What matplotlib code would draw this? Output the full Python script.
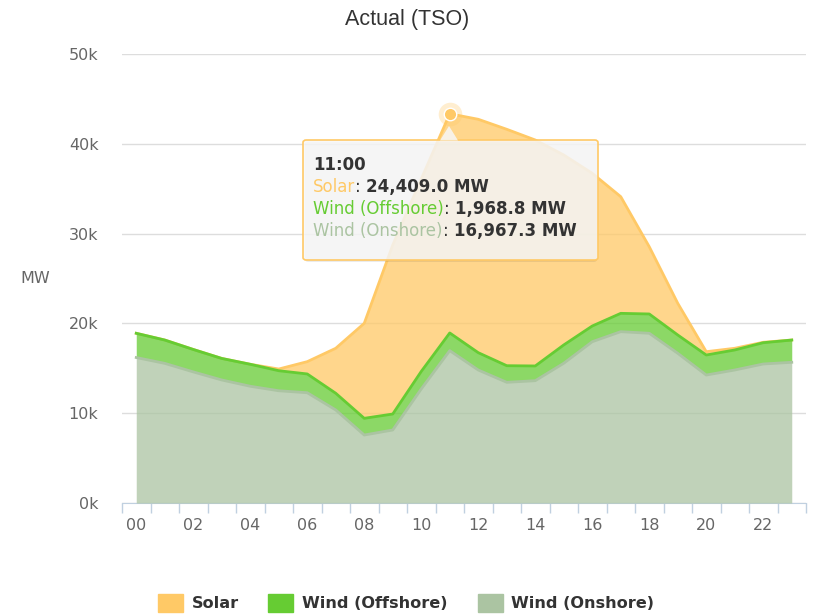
"""Actual (TSO) generation: stacked area of solar and wind, one day by hour."""

import matplotlib
matplotlib.use("Agg")
import matplotlib.pyplot as plt
from matplotlib.patches import Patch, FancyBboxPatch, Polygon

# --- colours ---
SOLAR: str = "#FFC966"
OFFSHORE: str = "#66CC33"
ONSHORE: str = "#ABC4A2"
GRID: str = "#DDDDDD"
AXIS: str = "#C0D0E0"
LABEL: str = "#666666"
DARK: str = "#333333"

W, H = 813, 616

# --- data (MW, per hour) ---
hours = list(range(24))
hour_labels = [f"{h:02d}" for h in hours]
solar = [0, 0, 0, 0, 0, 190, 1370, 5010, 10580, 18820, 21430, 24409.0,
         25990, 26325, 25164, 21153, 17004, 12990, 7490, 3528, 370, 190, 50, 0]
wind_offshore = [2700, 2600, 2500, 2400, 2450, 2230, 2090, 1860, 1860, 1780, 1950, 1968.8,
                 1930, 1850, 1640, 2040, 1750, 2040, 2150, 2040, 2230, 2230, 2370, 2480]
wind_onshore = [16200, 15550, 14600, 13700, 13000, 12500, 12280, 10360, 7570, 8130, 12700, 16967.3,
                14810, 13440, 13620, 15560, 17960, 19080, 18900, 16670, 14250, 14810, 15480, 15670]
y_ticks = [0, 10000, 20000, 30000, 40000, 50000]
highlight_hour = 11


def px(x: float, y: float) -> tuple[float, float]:
    """Pixel position (from top-left) to figure fraction."""
    return x / W, 1 - y / H


fig = plt.figure(figsize=(W / 100, H / 100), dpi=100, facecolor="white")
ax = fig.add_axes([122 / W, 1 - 503 / H, (806 - 122) / W, (503 - 54) / H])

onshore_top = wind_onshore
offshore_top = [a + b for a, b in zip(wind_onshore, wind_offshore)]
solar_top = [a + b for a, b in zip(offshore_top, solar)]

# solar drawn first so the wind lines sit over it where solar is zero
ax.fill_between(hours, offshore_top, solar_top, color=SOLAR, alpha=0.75, lw=0, zorder=2)
ax.plot(hours, solar_top, color=SOLAR, lw=2, zorder=3)
ax.fill_between(hours, onshore_top, offshore_top, color=OFFSHORE, alpha=0.75, lw=0, zorder=4)
ax.plot(hours, offshore_top, color=OFFSHORE, lw=2, zorder=5)
ax.fill_between(hours, 0, onshore_top, color=ONSHORE, alpha=0.75, lw=0, zorder=6)
ax.plot(hours, onshore_top, color=ONSHORE, lw=2, zorder=7)

# hovered point
peak = solar_top[highlight_hour]
ax.plot(highlight_hour, peak, "o", ms=17, color=SOLAR, alpha=0.3, mec="none", zorder=8)
ax.plot(highlight_hour, peak, "o", ms=9, color=SOLAR, mec="white", mew=1, zorder=9)

ax.set_xlim(-0.5, 23.5)
ax.set_ylim(0, 50000)
ax.set_yticks(y_ticks)
ax.set_yticklabels([f"{v // 1000}k" for v in y_ticks])
ax.set_xticks(hours[::2])
ax.set_xticklabels(hour_labels[::2])
ax.set_xticks([h - 0.5 for h in hours] + [23.5], minor=True)
ax.tick_params(axis="y", length=0, pad=17, labelsize=11.5, labelcolor=LABEL)
ax.tick_params(axis="x", which="major", length=0, pad=11, labelsize=11.5, labelcolor=LABEL)
ax.tick_params(axis="x", which="minor", length=7, width=1, color=AXIS)
ax.grid(axis="y", color=GRID, lw=1, zorder=0)
ax.set_axisbelow(True)
for side in ("top", "right", "left"):
    ax.spines[side].set_visible(False)
ax.spines["bottom"].set_color(AXIS)
ax.set_ylabel("MW", rotation=0, color=LABEL, fontsize=11.5, labelpad=24, va="center")

fig.text(*px(407, 19.5), "Actual (TSO)", ha="center", va="center",
         fontsize=15.5, color=DARK, family="Liberation Sans")

# --- tooltip (kept inside the axes so its texts draw above the box) ---
tip = dict(transform=fig.transFigure, clip_on=False)
shadow = FancyBboxPatch(px(305, 262), (597 - 305) / W, (262 - 142) / H,
                        boxstyle="round,pad=0,rounding_size=0.004", fc="black", alpha=0.08,
                        ec="none", zorder=20, **tip)
box = FancyBboxPatch(px(303, 260), (598 - 303) / W, (260 - 140) / H,
                     boxstyle="round,pad=0,rounding_size=0.004", fc=(0.97, 0.97, 0.97, 0.85),
                     ec=SOLAR, lw=1.2, zorder=21, **tip)
callout = Polygon([px(440, 140.5), px(449, 126), px(458, 140.5)], closed=True,
                  fc=(0.97, 0.97, 0.97, 0.85), ec="none", zorder=22, **tip)
ax.add_patch(shadow)
ax.add_patch(box)
ax.add_patch(callout)

ax.text(*px(313, 170), "11:00", ha="left", va="baseline", fontsize=12,
        fontweight="bold", color=DARK, zorder=23, **tip)
tooltip_rows = [
    ("Solar", SOLAR, solar[highlight_hour], 192),
    ("Wind (Offshore)", OFFSHORE, wind_offshore[highlight_hour], 214),
    ("Wind (Onshore)", ONSHORE, wind_onshore[highlight_hour], 236),
]
for name, colour, value, y in tooltip_rows:
    label = ax.text(*px(313, y), name, ha="left", va="baseline", fontsize=12,
                    color=colour, zorder=23, **tip)
    colon = ax.annotate(": ", xy=(1, 0), xycoords=label, va="bottom", ha="left",
                        fontsize=12, color=DARK, zorder=23, annotation_clip=False)
    ax.annotate(f"{value:,.1f} MW", xy=(1, 0), xycoords=colon, va="bottom", ha="left",
                fontsize=12, fontweight="bold", color=DARK, zorder=23, annotation_clip=False)

# --- legend ---
handles = [Patch(color=SOLAR), Patch(color=OFFSHORE), Patch(color=ONSHORE)]
names = ["Solar", "Wind (Offshore)", "Wind (Onshore)"]
fig.legend(handles, names, loc="center", bbox_to_anchor=px(406, 603), ncol=3, frameon=False,
           handlelength=1.55, handleheight=1.35, handletextpad=0.55, columnspacing=1.85,
           prop={"size": 11.6, "weight": "bold"}, labelcolor=DARK)

fig.savefig("out.png", dpi=100, facecolor="white")
